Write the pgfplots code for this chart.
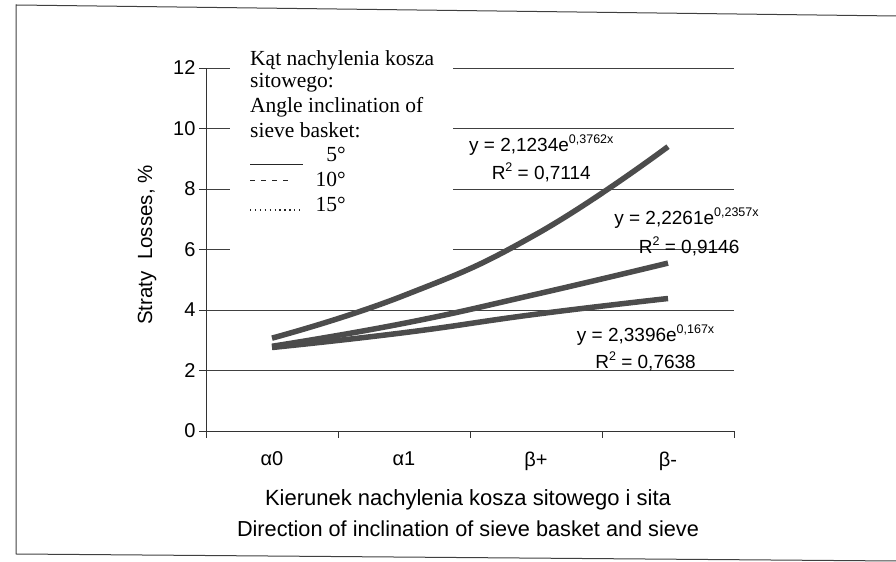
\documentclass[border=0pt]{standalone}
\usepackage{pgfplots}
\pgfplotsset{compat=1.18}
\usepackage{fontspec}
\setmainfont{Liberation Sans}
\newfontfamily\serif{Liberation Serif}
\newcommand{\sups}[1]{\raisebox{8bp}{\fontsize{12.5bp}{12.5bp}\selectfont #1}}
\begin{document}
\begin{tikzpicture}[x=1bp,y=1bp]
\path[use as bounding box] (0,0) rectangle (896,562);
\draw[line width=1bp, black!75] (896,546) -- (16,557) -- (16,8) -- (896,1);
\begin{axis}[
  at={(206bp,131bp)}, anchor=south west,
  width=528bp, height=363bp, scale only axis,
  xmin=0.5, xmax=4.5, ymin=0, ymax=12,
  axis x line*=bottom, axis y line*=left,
  axis line style={-, line width=0.9bp, black!80},
  ytick={0,2,...,12},
  xtick={0.5,1.5,2.5,3.5,4.5}, xticklabels={},
  extra x ticks={1,2,3,4}, extra x tick labels={α0,α1,β+,β-},
  extra x tick style={major tick length=0pt},
  ymajorgrids, grid style={line width=0.9bp, black!75},
  tick style={line width=0.9bp, black!80},
  tick align=outside, major tick length=7bp,
  /pgf/number format/assume math mode=true,
  ticklabel style={font=\fontsize{20bp}{23bp}\selectfont},
  xticklabel style={yshift=-17bp},
  clip=false,
]
\addplot[smooth, tension=0.8, line width=5.5bp, color=black!70] coordinates {(1,3.07) (2,4.48) (3,6.50) (4,9.40)};
\addplot[smooth, tension=0.8, line width=5.5bp, color=black!70] coordinates {(1,2.80) (2,3.56) (3,4.52) (4,5.55)};
\addplot[smooth, tension=0.8, line width=5.5bp, color=black!70] coordinates {(1,2.76) (2,3.25) (3,3.86) (4,4.38)};
\node[font=\fontsize{19bp}{22bp}\selectfont] at (axis cs:3.04,9.45) {y = 2,1234e\sups{0,3762x}};
\node[font=\fontsize{19bp}{22bp}\selectfont] at (axis cs:3.04,8.56) {R\sups{2} = 0,7114};
\node[font=\fontsize{19bp}{22bp}\selectfont] at (axis cs:4.14,7.04) {y = 2,2261e\sups{0,2357x}};
\node[font=\fontsize{19bp}{22bp}\selectfont] at (axis cs:4.16,6.12) {R\sups{2} = 0,9146};
\node[font=\fontsize{19bp}{22bp}\selectfont] at (axis cs:3.83,3.17) {y = 2,3396e\sups{0,167x}};
\node[font=\fontsize{19bp}{22bp}\selectfont] at (axis cs:3.83,2.31) {R\sups{2} = 0,7638};
\end{axis}
% legend box
\fill[white] (230,512) rectangle (453,304);
\begin{scope}[every node/.style={inner sep=0pt, font=\serif\fontsize{21.5bp}{24bp}\selectfont}]
\node[anchor=base west] at (250,496) {Kąt nachylenia kosza};
\node[anchor=base west] at (250,474) {sitowego:};
\node[anchor=base west] at (250,449) {Angle inclination of};
\node[anchor=base west] at (250,424) {sieve basket:};
\node[anchor=base east] at (346,400) {5°};
\node[anchor=base east] at (346,375) {10°};
\node[anchor=base east] at (346,350) {15°};
\end{scope}
\draw[line width=1bp, black!85] (250,397) -- (303,397);
\draw[line width=1bp, black!85, dash pattern=on 5bp off 6bp] (250,381) -- (294,381);
\draw[line width=1.3bp, black!85, dash pattern=on 1.3bp off 3.6bp] (250,352) -- (302,352);
% axis titles
\node[rotate=90, font=\fontsize{20.5bp}{23bp}\selectfont] at (147,317) {Straty\ \ Losses, \%};
\node[anchor=base, font=\fontsize{22bp}{25bp}\selectfont] at (468,56) {Kierunek nachylenia kosza sitowego i sita};
\node[anchor=base, font=\fontsize{21.7bp}{25bp}\selectfont] at (468,25) {Direction of inclination of sieve basket and sieve};
\end{tikzpicture}
\end{document}
